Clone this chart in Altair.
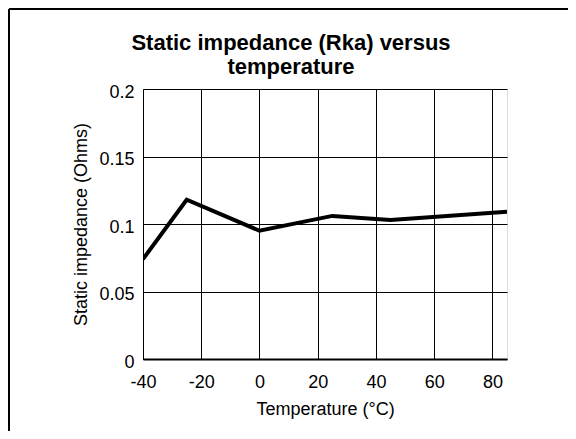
import altair as alt
import pandas as pd

temps = [-40, -25, 0, 25, 45, 85]
impedance = [0.074, 0.118, 0.095, 0.106, 0.103, 0.109]
x_ticks = [-40, -20, 0, 20, 40, 60, 80]
y_ticks = [0, 0.05, 0.1, 0.15, 0.2]
title_lines = ["Static impedance (Rka) versus", "temperature"]
x_title = "Temperature (°C)"
y_title = "Static impedance (Ohms)"

df = pd.DataFrame({"t": temps, "z": impedance})
FONT = "Liberation Sans"

line = alt.Chart(df).mark_line(color="black", strokeWidth=4, strokeJoin="miter", clip=True).encode(
    x=alt.X("t:Q", scale=alt.Scale(domain=[-40, 85], nice=False, zero=False),
            axis=alt.Axis(values=x_ticks, title=x_title, labelExpr="'' + datum.value",
                          grid=True, gridColor="black", gridWidth=1, gridOpacity=1,
                          ticks=False, domainColor="black", domainWidth=2,
                          labelFontSize=18, titleFontSize=18, labelFont=FONT, titleFont=FONT,
                          labelColor="black", titleColor="black", titleFontWeight="normal",
                          labelFlush=False, labelOverlap=False,
                          labelPadding=14, titlePadding=9)),
    y=alt.Y("z:Q", scale=alt.Scale(domain=[0, 0.2], nice=False),
            axis=alt.Axis(values=y_ticks, title=y_title, labelExpr="'' + datum.value",
                          grid=True, gridColor="black", gridWidth=1, gridOpacity=1,
                          ticks=False, domainColor="black", domainWidth=1,
                          labelFontSize=18, titleFontSize=18, labelFont=FONT, titleFont=FONT,
                          labelColor="black", titleColor="black", titleFontWeight="normal",
                          labelFlush=False, labelOverlap=False,
                          labelPadding=9, labelOffset=3, titlePadding=8)),
)

frame_top = alt.Chart(df).mark_rule(color="black", strokeWidth=2).encode(
    x=alt.value(-134), x2=alt.value(560), y=alt.value(-80)
)
frame_left = alt.Chart(df).mark_rule(color="black", strokeWidth=2).encode(
    x=alt.value(-134), y=alt.value(-80), y2=alt.value(400)
)

chart = alt.layer(line, frame_top, frame_left).properties(
    width=364, height=270,
    title=alt.TitleParams(text=title_lines, fontSize=22, font=FONT, fontWeight="bold",
                          color="black", anchor="middle", frame="group", dx=-34,
                          lineHeight=24, offset=0, dy=71),
    autosize=alt.AutoSizeParams(type="none"),
    padding={"left": 135, "top": 81, "right": 61, "bottom": 72},
).configure_view(stroke="black", strokeWidth=1).configure(background="white")

chart.save("out.html", embed_options={"renderer": "svg", "actions": False})
